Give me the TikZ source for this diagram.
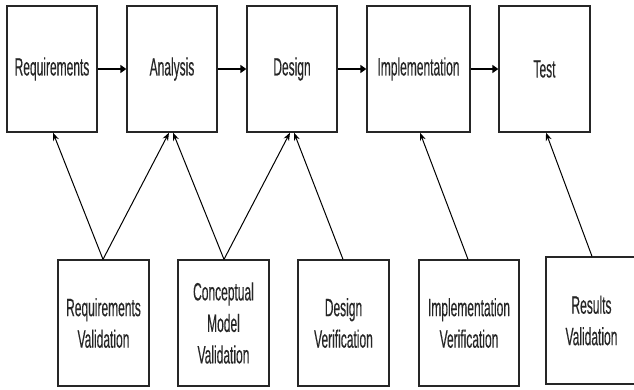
\documentclass[tikz,border=0pt]{standalone}
\usepackage{fontspec}
\setmainfont{Liberation Sans}[FakeStretch=0.48, FakeBold=0.3]
\usetikzlibrary{arrows.meta}
\begin{document}
\begin{tikzpicture}[x=1pt,y=-1pt,
  box/.style={draw=black!85, line width=1.3pt, inner sep=0pt, align=center,
    font=\fontsize{25}{31.5}\selectfont, text=black!85},
  flow/.style={line width=2pt, -{Triangle[length=6pt,width=8pt]}},
  link/.style={line width=1pt, -{Stealth[length=8pt,width=6pt]}}]
\useasboundingbox (0,0) rectangle (634,389);
% process stages along the top
\node[box, minimum width=90pt, minimum height=126pt] (req) at (52,69) {Requirements};
\node[box, minimum width=90pt, minimum height=126pt] (ana) at (172,69) {Analysis};
\node[box, minimum width=90pt, minimum height=126pt] (des) at (292,69) {Design};
\node[box, minimum width=103pt, minimum height=126pt] (imp) at (418.5,69) {Implementation};
\node[box, minimum width=91pt, minimum height=126pt] (tst) at (544.5,69) {Test};
% checks along the bottom
\node[box, minimum width=91pt, minimum height=126pt] (rv) at (103.5,323) {Requirements\\Validation};
\node[box, minimum width=91pt, minimum height=126pt] (cmv) at (223.5,323) {Conceptual\\Model\\Validation};
\node[box, minimum width=91pt, minimum height=126pt] (dv) at (343.5,323) {Design\\Verification};
\node[box, minimum width=100pt, minimum height=126pt] (iv) at (469,323) {Implementation\\Verification};
\node[box, minimum width=91pt, minimum height=127pt] (rsv) at (591.5,320.5) {Results\\Validation};
% main flow
\draw[flow] (req) -- (ana);
\draw[flow] (ana) -- (des);
\draw[flow] (des) -- (imp);
\draw[flow] (imp) -- (tst);
% validation / verification links
\draw[link] (rv.north -| 103,0) -- (req.south -| 53,0);
\draw[link] (rv.north -| 103,0) -- (ana.south -| 169,0);
\draw[link] (cmv.north -| 224,0) -- (ana.south -| 173,0);
\draw[link] (cmv.north -| 224,0) -- (des.south -| 290,0);
\draw[link] (dv.north -| 343,0) -- (des.south -| 294,0);
\draw[link] (iv.north -| 468,0) -- (imp.south -| 420,0);
\draw[link] (rsv.north -| 592,0) -- (tst.south -| 546,0);
\end{tikzpicture}
\end{document}
